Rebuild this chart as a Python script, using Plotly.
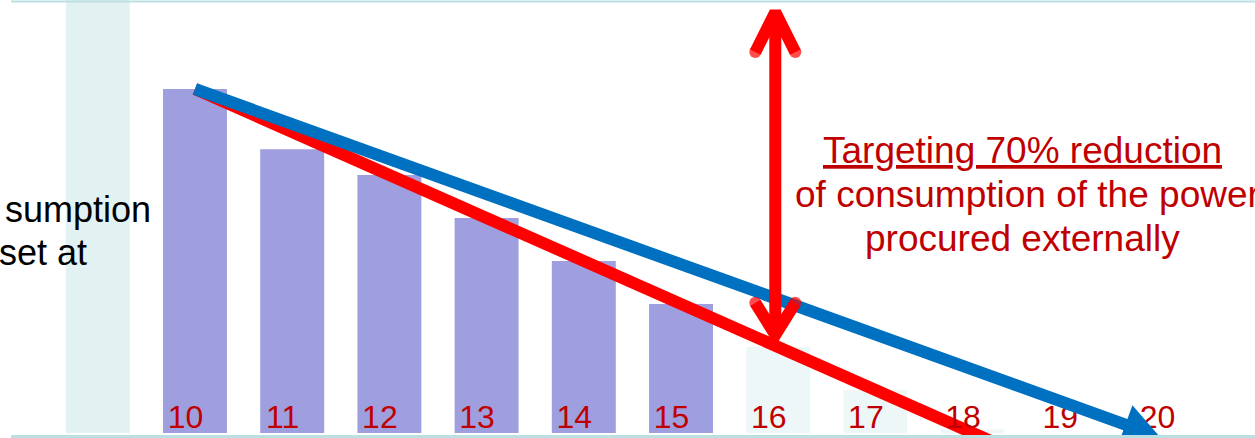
import numpy as np
import plotly.graph_objects as go

# ---------------- data ----------------
years = [10, 11, 12, 13, 14, 15, 16, 17, 18, 19, 20]
year_labels = ["10", "11", "12", "13", "14", "15", "16", "17", "18", "19", "20"]
consumption = [100, 82.5, 75, 62.5, 50, 37.5, 25, 12.5, 1, 0, 0]
is_actual = [True, True, True, True, True, True, False, False, False, False, False]

highlight_year = [9]
highlight_value = [126]

target_years = [10, 18.2]          # red 70%-reduction path
target_values = [100, -2.5]

trend_years = [10, 19.93]          # blue trend arrow
trend_values = [100, -1.2]

gap_year = 15.97                   # vertical double arrow
gap_values = [26.5, 124.4]

left_text = ["sumption", "set at"]
note_lines = ["<u>Targeting 70% reduction</u>", "of consumption of the power", "procured externally"]

# ---------------- geometry helpers ----------------
W, H = 1255, 438
X0, X1 = 7.994, 20.905
Y0, Y1 = -1.453, 125.87
PPX = W / (X1 - X0)
PPY = H / (Y1 - Y0)


def to_px(x, y):
    return np.array([(x - X0) * PPX, (Y1 - y) * PPY])


def to_data(p):
    return X0 + p[0] / PPX, Y1 - p[1] / PPY


PURPLE = "#9F9FDF"
LIGHT = "#EEF7F8"
TEAL = "#E2F2F3"
BORDER = "#BCDFE2"
BLUE = "#0070C0"
RED = "#FF0000"
DARKRED = "#C00000"
FONT = "Liberation Sans, Arial, sans-serif"

fig = go.Figure()

# highlight column
fig.add_trace(go.Bar(x=highlight_year, y=highlight_value, width=0.658,
                     marker=dict(color=TEAL, line=dict(width=0)), hoverinfo="skip"))
# consumption bars
fig.add_trace(go.Bar(x=years, y=consumption, width=0.658,
                     marker=dict(color=[PURPLE if a else LIGHT for a in is_actual], line=dict(width=0)),
                     hoverinfo="skip"))

# red target line
fig.add_trace(go.Scatter(x=target_years, y=target_values, mode="lines",
                         line=dict(color=RED, width=12), hoverinfo="skip"))

# year labels
lab_dx = -9.5 / PPX
lab_y = Y1 - (431 - 0.35 * 32) / PPY
fig.add_trace(go.Scatter(x=[y + lab_dx for y in years], y=[lab_y] * len(years), mode="text",
                         text=year_labels, textposition="middle center",
                         textfont=dict(family=FONT, size=32, color=DARKRED), hoverinfo="skip"))

# blue trend arrow
start = to_px(trend_years[0], trend_values[0])
tip = to_px(trend_years[1], trend_values[1])
u = (tip - start) / np.linalg.norm(tip - start)
n = np.array([-u[1], u[0]])
HEAD_L, HEAD_HW = 37, 20.6
line_end = to_data(tip - (HEAD_L - 8) * u)
fig.add_trace(go.Scatter(x=[trend_years[0], line_end[0]], y=[trend_values[0], line_end[1]], mode="lines",
                         line=dict(color=BLUE, width=12), hoverinfo="skip"))
head_pts = [tip, tip - HEAD_L * u + HEAD_HW * n, tip - HEAD_L * u - HEAD_HW * n, tip]
hx, hy = zip(*[to_data(p) for p in head_pts])
fig.add_trace(go.Scatter(x=hx, y=hy, mode="lines", fill="toself", fillcolor=BLUE,
                         line=dict(color=BLUE, width=0), hoverinfo="skip"))

# red vertical double arrow
bot_tip = to_px(gap_year, gap_values[0])
top_tip = to_px(gap_year, gap_values[1])
INSET, SIDE = 7, 20
bot_v = bot_tip + np.array([0, -INSET])
top_v = top_tip + np.array([0, INSET])
vx, vy = zip(*[to_data(p) for p in [bot_v, top_v]])
fig.add_trace(go.Scatter(x=vx, y=vy, mode="lines", line=dict(color=RED, width=12), hoverinfo="skip"))
for v, sgn, back in [(bot_v, -1, 32), (top_v, 1, 40)]:
    pts = [v + np.array([-SIDE, sgn * back]), v, v + np.array([SIDE, sgn * back])]
    cx, cy = zip(*[to_data(p) for p in pts])
    fig.add_trace(go.Scatter(x=cx, y=cy, mode="lines+markers",
                             line=dict(color=RED, width=12),
                             marker=dict(color=RED, size=[12, 0, 12], line=dict(width=0)),
                             hoverinfo="skip"))

# ---------------- annotations ----------------
def py(pix):
    return 1 - pix / H

annotations = [
    dict(text=left_text[0], x=153 / W, y=py(222 - 0.3465 * 36), xanchor="right", yanchor="middle"),
    dict(text=left_text[1], x=89 / W, y=py(265 - 0.3465 * 36), xanchor="right", yanchor="middle"),
]
for a in annotations:
    a.update(xref="paper", yref="paper", showarrow=False, font=dict(family=FONT, size=36, color="black"))

note_pos = [(1022 / W, 163, "center"), (793 / W, 207, "left"), (1022 / W, 251.5, "center")]
for txt, (x, base, anc) in zip(note_lines, note_pos):
    annotations.append(dict(text=txt, x=x, y=py(base - 0.3465 * 37), xanchor=anc, yanchor="middle",
                            xref="paper", yref="paper", showarrow=False,
                            font=dict(family=FONT, size=37, color=DARKRED)))

shapes = [
    dict(type="line", xref="paper", yref="paper", x0=11 / W, x1=1, y0=py(1.5), y1=py(1.5),
         line=dict(color=BORDER, width=2)),
    dict(type="line", xref="paper", yref="paper", x0=11 / W, x1=1, y0=py(436.5), y1=py(436.5),
         line=dict(color=BORDER, width=3)),
]

fig.update_layout(
    width=W, height=H, autosize=False,
    margin=dict(l=0, r=0, t=0, b=0, pad=0),
    paper_bgcolor="white", plot_bgcolor="white",
    barmode="overlay", showlegend=False,
    xaxis=dict(range=[X0, X1], visible=False, fixedrange=True),
    yaxis=dict(range=[Y0, Y1], visible=False, fixedrange=True),
    annotations=annotations, shapes=shapes,
)

fig.write_html("out.html", config={"displayModeBar": False})
